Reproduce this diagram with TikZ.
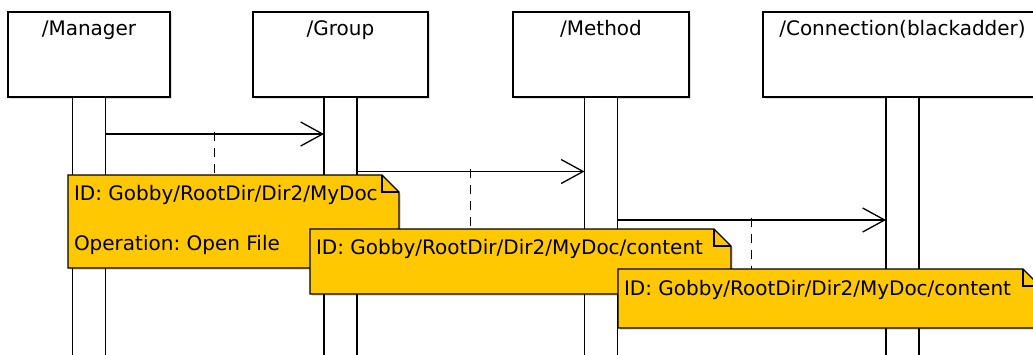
\documentclass[tikz,border=0pt]{standalone}
\usepackage{fontspec}
\setmainfont{DejaVu Sans}
\usetikzlibrary{arrows.meta,shadows,calc}
\frenchspacing

\definecolor{noteyellow}{RGB}{255,200,0}

% Draws a UML note with a folded top-right corner; the area node is #1
\newcommand\umlnote[4]{% name, north-west corner, width, height
  \node[notearea, minimum width=#3pt, minimum height=#4pt, anchor=north west] (#1) at #2 {};
  \filldraw[noteshape] (#1.north west) -- ($(#1.north east)+(-17,0)$)
    -- ($(#1.north east)+(0,17)$) -- (#1.south east) -- (#1.south west) -- cycle;
  \draw[thinline] ($(#1.north east)+(-17,0)$) -- ++(0,17) -- ($(#1.north east)+(0,17)$);
}

\begin{document}
\begin{tikzpicture}[x=1pt,y=-1pt,
  every node/.style={font=\fontsize{20}{24}\selectfont, inner sep=0pt, outer sep=0pt},
  thinline/.style={line width=1.3pt, line join=miter},
  softshadow/.style={drop shadow={shadow xshift=1.8pt, shadow yshift=-1.8pt, opacity=0.13, fill=black}},
  objbox/.style={draw, thinline, fill=white, minimum height=85pt, softshadow},
  lifebar/.style={draw, thinline, fill=white, minimum width=33pt, minimum height=270pt, anchor=north},
  objlabel/.style={anchor=base},
  msg/.style={thinline, -{Straight Barb[length=22pt, width=24pt]}},
  anchorline/.style={thinline, dash pattern=on 9pt off 7pt},
  notearea/.style={draw=none, fill=none},
  noteshape/.style={thinline, fill=noteyellow, softshadow},
  notetext/.style={anchor=base west},
]
\useasboundingbox (0,0) rectangle (1033,354);
\clip (0,0) rectangle (1033,354);

% participants
\node[objbox, minimum width=162pt] (mgr) at (89,54.5) {};
\node[objbox, minimum width=175pt] (grp) at (340.5,54.5) {};
\node[objbox, minimum width=176pt] (mth) at (601,54.5) {};
\node[objbox, minimum width=279pt] (con) at (902.5,54.5) {};

\node[objlabel] (mgrlbl) at (89,35) {/Manager};
\node[objlabel] (grplbl) at (340.5,35) {/Group};
\node[objlabel] (mthlbl) at (601,35) {/Method};
\node[objlabel] (conlbl) at (902.5,35) {/Connection(blackadder)};

% activation bars
\node[lifebar] (mgrbar) at (mgr.south) {};
\node[lifebar] (grpbar) at (grp.south) {};
\node[lifebar] (mthbar) at (mth.south) {};
\node[lifebar] (conbar) at (con.south) {};

% message rows
\coordinate (r1) at (0,134);
\coordinate (r2) at (0,171.5);
\coordinate (r3) at (0,220);

\draw[msg] (mgrbar.east |- r1) -- (grpbar.west |- r1);
\draw[msg] (grpbar.east |- r2) -- (mthbar.west |- r2);
\draw[msg] (mthbar.east |- r3) -- (conbar.west |- r3);

% notes
\umlnote{n1}{(68,175)}{331}{93}
\node[notetext] (n1a) at ($(n1.north west)+(6,25.7)$) {ID: Gobby/RootDir/Dir2/MyDoc};
\node[notetext] (n1b) at ($(n1.north west)+(6,75.7)$) {Operation: Open File};

\umlnote{n2}{(310,229)}{421}{65}
\node[notetext] (n2a) at ($(n2.north west)+(6,25.3)$) {ID: Gobby/RootDir/Dir2/MyDoc/content};

\umlnote{n3}{(618,269)}{422}{59}
\node[notetext] (n3a) at ($(n3.north west)+(6,26)$) {ID: Gobby/RootDir/Dir2/MyDoc/content};

% note anchors: dashed lines from message midpoints to the notes
\coordinate (d1) at ($($(mgrbar.east |- r1)!0.5!(grpbar.west |- r1)$)+(0,-2.5)$);
\coordinate (d2) at ($($(grpbar.east |- r2)!0.5!(mthbar.west |- r2)$)+(0,-2.5)$);
\coordinate (d3) at ($($(mthbar.east |- r3)!0.5!(conbar.west |- r3)$)+(0,-2.5)$);
\draw[anchorline] (d1) -- (d1 |- n1.north);
\draw[anchorline] (d2) -- (d2 |- n2.north);
\draw[anchorline] (d3) -- (d3 |- n3.north);
\end{tikzpicture}
\end{document}
